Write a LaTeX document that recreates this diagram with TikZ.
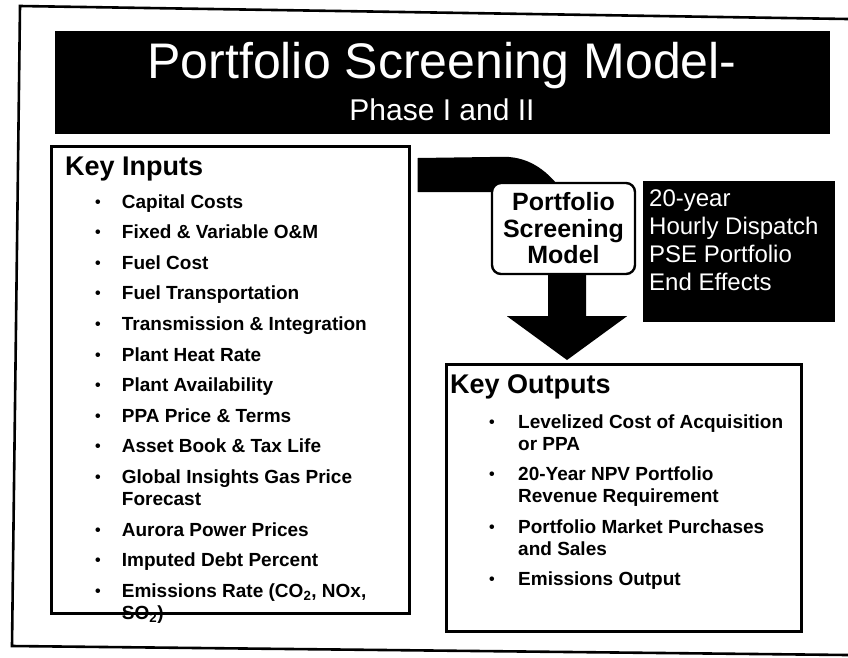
\documentclass[tikz,border=0pt]{standalone}
\usepackage{fontspec}
\setmainfont{Liberation Sans}
\usetikzlibrary{calc,backgrounds}
\newcommand{\listdot}{\raisebox{1pt}{\fontsize{16}{16}\selectfont\textbullet}}
\tikzset{
  frameline/.style={line width=2.6pt},
  listbox/.style={draw, line width=2.6pt, fill=white, inner sep=0pt, anchor=north west},
  modelbox/.style={draw, line width=2.4pt, fill=white, rounded corners=9pt, inner sep=0pt,
    align=center, font=\fontsize{25}{26.5}\selectfont\bfseries},
  blackbox/.style={fill=black, inner sep=0pt, anchor=north west},
  headtext/.style={font=\fontsize{27}{30}\selectfont\bfseries, inner sep=0pt, anchor=base west},
  itemtext/.style={font=\fontsize{19}{22}\selectfont\bfseries, inner sep=0pt, anchor=base west},
  whitetext/.style={text=white, inner sep=0pt},
}
\begin{document}
\begin{tikzpicture}[x=1pt,y=-1pt]
\useasboundingbox (0,0) rectangle (848,657);
% outer frame
\draw[frameline] (848,19) -- (20,6) -- (12,646) -- (848,655);
% title bar
\node[blackbox, minimum width=775, minimum height=103] (banner) at (55,31) {};
\node[whitetext, font=\fontsize{50}{56}\selectfont, anchor=base] (title) at (442,78) {Portfolio Screening Model-};
\node[whitetext, font=\fontsize{30}{34}\selectfont, anchor=base] (phase) at (442,120) {Phase I and II};
% inputs
\node[listbox, minimum width=358, minimum height=467] (inputs) at (50,145) {};
\node[headtext] (inhead) at (65,175) {Key Inputs};
\node[itemtext] (inlist) at (95,208) {\begin{tabular}[t]{@{}p{26.7pt}@{}l@{}}
\listdot & Capital Costs\\[8.6pt]
\listdot & Fixed \& Variable O\&M\\[8.6pt]
\listdot & Fuel Cost\\[8.6pt]
\listdot & Fuel Transportation\\[8.6pt]
\listdot & Transmission \& Integration\\[8.6pt]
\listdot & Plant Heat Rate\\[8.6pt]
\listdot & Plant Availability\\[8.6pt]
\listdot & PPA Price \& Terms\\[8.6pt]
\listdot & Asset Book \& Tax Life\\[8.6pt]
\listdot & Global Insights Gas Price\\
         & Forecast\\[8.6pt]
\listdot & Aurora Power Prices\\[8.6pt]
\listdot & Imputed Debt Percent\\[8.6pt]
\listdot & Emissions Rate (CO\textsubscript{2}, NOx,\\
         & SO\textsubscript{2})
\end{tabular}};
% model and its facts
\node[modelbox, minimum width=143, minimum height=91] (model) at (563.5,228.5) {Portfolio\\Screening\\Model};
\node[blackbox, minimum width=192, minimum height=141] (facts) at (643,181) {};
\node[whitetext, font=\fontsize{24}{28}\selectfont, anchor=base west] (factlist) at ($(facts.north west)+(6,25)$)
  {\begin{tabular}[t]{@{}l@{}}20-year\\Hourly Dispatch\\PSE Portfolio\\End Effects\end{tabular}};
% outputs
\node[listbox, minimum width=355, minimum height=267] (outputs) at (445,363) {};
\node[headtext] (outhead) at (450,393) {Key Outputs};
\node[itemtext] (outlist) at (489,428) {\begin{tabular}[t]{@{}p{29pt}@{}l@{}}
\listdot & Levelized Cost of Acquisition\\
         & or PPA\\[8.6pt]
\listdot & 20-Year NPV Portfolio\\
         & Revenue Requirement\\[8.6pt]
\listdot & Portfolio Market Purchases\\
         & and Sales\\[8.6pt]
\listdot & Emissions Output
\end{tabular}};
% flow arrows
\begin{scope}[on background layer]
\fill ($(inputs.north east)+(7,13)$) -- ($(model.north west)+(13,-25)$)
  .. controls +(28,0) and +(-12,-16) .. ($(model.north)+(-2,8)$)
  -- ($(model.north west)+(8,8)$) |- ($(inputs.north east)+(7,47)$) -- cycle;
\coordinate (base) at ($(model.south)+(3.5,0)$);
\coordinate (tip) at ($(base |- outputs.north)+(0,-3)$);
\fill ($(base)+(-19,-4)$) -- ($(base)+(19,-4)$) -- ($(base)+(19,41)$) -- ($(base)+(60,41)$)
  -- (tip) -- ($(base)+(-60,41)$) -- ($(base)+(-19,41)$) -- cycle;
\end{scope}
\end{tikzpicture}
\end{document}
